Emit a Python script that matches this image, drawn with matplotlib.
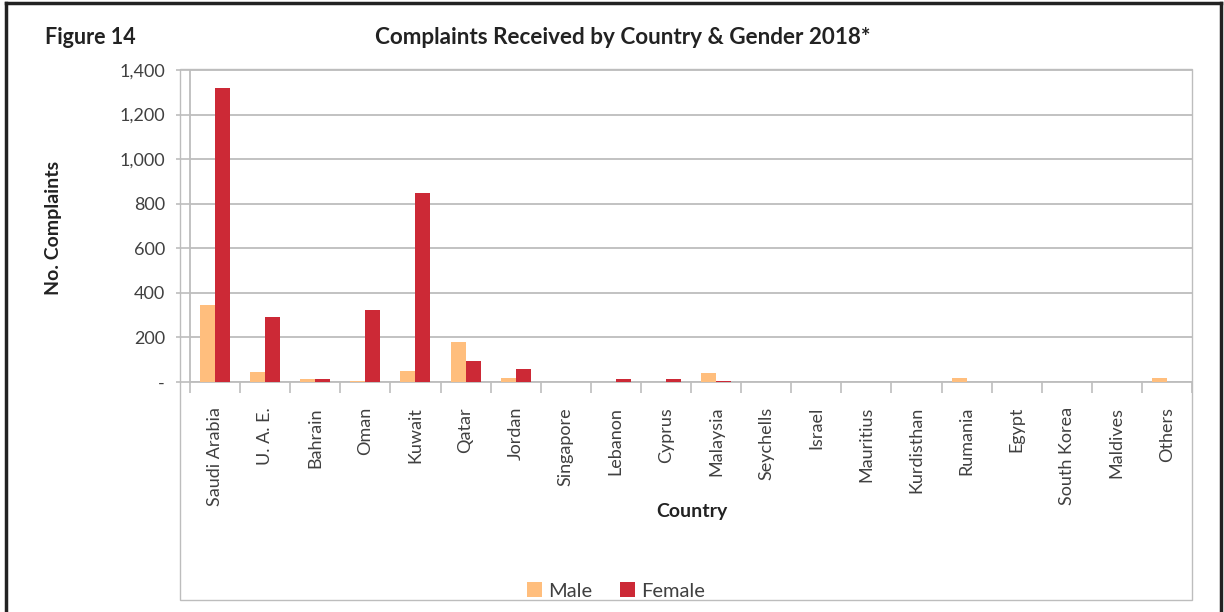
import numpy as np
import matplotlib
matplotlib.use("Agg")
import matplotlib.pyplot as plt
from matplotlib.patches import Rectangle
from matplotlib.ticker import FuncFormatter

plt.rcParams['font.family'] = ['Lato', 'DejaVu Sans']

countries = ["Saudi Arabia", "U. A. E.", "Bahrain", "Oman", "Kuwait", "Qatar",
             "Jordan", "Singapore", "Lebanon", "Cyprus", "Malaysia", "Seychells",
             "Israel", "Mauritius", "Kurdisthan", "Rumania", "Egypt",
             "South Korea", "Maldives", "Others"]
male = [345, 46, 12, 5, 51, 178, 16, 0, 0, 0, 42, 0, 0, 0, 0, 16, 0, 0, 0, 16]
female = [1320, 292, 12, 322, 848, 94, 57, 0, 12, 12, 5, 0, 0, 0, 0, 0, 0, 0, 0, 0]

male_col = "#FFBE7D"
female_col = "#CC2936"
grid_col = "#BDBDBD"
txt_col = "#404040"

W, H = 1224, 612
fig = plt.figure(figsize=(W / 100, H / 100), dpi=100)

# outer border (left, top, right)
fig.add_artist(plt.Line2D([6 / W, 6 / W], [0, 1 - 3 / H], color="#222222", lw=2.5))
fig.add_artist(plt.Line2D([6 / W, 1221 / W], [1 - 3 / H, 1 - 3 / H], color="#222222", lw=2.5))
fig.add_artist(plt.Line2D([1221 / W, 1221 / W], [0, 1 - 3 / H], color="#222222", lw=2.5))

# light chart box
fig.add_artist(Rectangle((180 / W, 1 - 600 / H), (1192 - 180) / W, (600 - 69) / H,
                         transform=fig.transFigure, fill=False, ec=grid_col, lw=1))

ax = fig.add_axes([190 / W, 1 - 382 / H, (1192 - 190) / W, (382 - 70) / H])

x = np.arange(len(countries))
w = 0.3
ax.bar(x - w / 2, male, w, color=male_col, label="Male", zorder=3)
ax.bar(x + w / 2, female, w, color=female_col, label="Female", zorder=3)

ax.set_xlim(-0.5, len(countries) - 0.5)
ax.set_ylim(0, 1400)
ax.set_yticks(np.arange(0, 1401, 200))
ax.yaxis.set_major_formatter(FuncFormatter(lambda v, p: "-" if v == 0 else f"{int(v):,}"))
ax.grid(axis="y", color=grid_col, lw=1.3, zorder=0)

ax.set_xticks(x)
ax.set_xticklabels(countries, rotation=90, fontsize=13, color=txt_col)
ax.set_xticks(np.arange(-0.5, len(countries), 1), minor=True)
ax.tick_params(axis="x", which="major", length=0, pad=18)
ax.tick_params(axis="x", which="minor", length=8, width=1.2, color=grid_col)
ax.tick_params(axis="y", length=10, width=1.2, color=grid_col, pad=8,
               labelsize=13, labelcolor=txt_col)

for s in ["top", "right"]:
    ax.spines[s].set_visible(False)
for s in ["left", "bottom"]:
    ax.spines[s].set_color(grid_col)
    ax.spines[s].set_linewidth(1.3)

fig.text(45 / W, 1 - 37 / H, "Figure 14", fontsize=15.5, fontweight="bold",
         color="#222222", va="center", ha="left")
fig.text(623 / W, 1 - 38 / H, "Complaints Received by Country & Gender 2018*",
         fontsize=16.2, fontweight="bold", color="#222222", va="center", ha="center")
fig.text(53 / W, 1 - 228 / H, "No. Complaints", fontsize=14, fontweight="bold",
         color="#222222", rotation=90, va="center", ha="center")
fig.text(692 / W, 1 - 512 / H, "Country", fontsize=14, fontweight="bold",
         color="#222222", va="center", ha="center")

fig.legend(loc="center", bbox_to_anchor=(616 / W, 1 - 591 / H), ncol=2, frameon=False,
           fontsize=14.5, handlelength=0.75, handleheight=0.75, columnspacing=1.4,
           handletextpad=0.3, labelcolor=txt_col)

fig.savefig("out.png", dpi=100)
